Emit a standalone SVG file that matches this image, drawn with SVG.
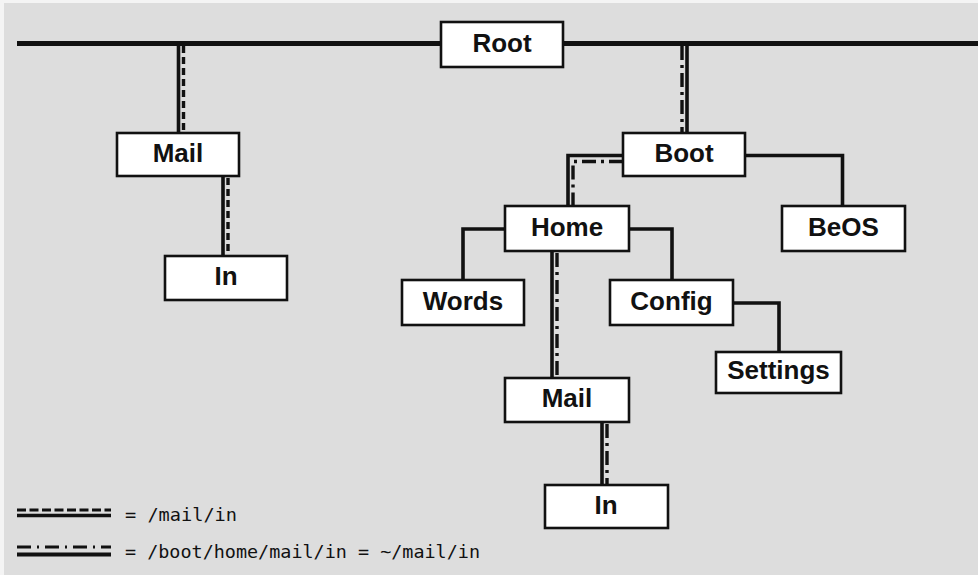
<svg xmlns="http://www.w3.org/2000/svg" width="978" height="575" viewBox="0 0 978 575">
  <style>
    .box { fill: #ffffff; stroke: #111111; stroke-width: 2.6; }
    .lbl { font-family: "Liberation Sans", Arial, sans-serif; font-weight: bold; font-size: 26px; fill: #111111; text-anchor: middle; }
    .solid { fill: none; stroke: #111111; stroke-width: 3.6; }
    .dash { fill: none; stroke: #111111; stroke-width: 3.4; stroke-dasharray: 7 4; }
    .dashdot { fill: none; stroke: #111111; stroke-width: 3.4; stroke-dasharray: 14 5 3 5; }
    .legend { font-family: "DejaVu Sans Mono", "Liberation Mono", monospace; font-size: 18.4px; fill: #111111; }
  </style>

  <!-- page background -->
  <rect x="0" y="0" width="978" height="575" fill="#f4f4f4"/>
  <rect x="4" y="3" width="974" height="572" fill="#dddddd"/>

  <!-- connectors -->
  <g id="connectors">
    <!-- root bus -->
    <line x1="17" y1="43.5" x2="978" y2="43.5" stroke="#111111" stroke-width="5"/>

    <!-- Root to /mail -->
    <line class="solid" x1="178.5" y1="44" x2="178.5" y2="133"/>
    <line class="dash" x1="183.5" y1="46" x2="183.5" y2="133"/>
    <!-- /mail to /mail/in -->
    <line class="solid" x1="223" y1="176" x2="223" y2="256"/>
    <line class="dash" x1="228" y1="178" x2="228" y2="256"/>

    <!-- Root to Boot -->
    <line class="solid" x1="687" y1="44" x2="687" y2="133"/>
    <line class="dashdot" x1="682" y1="46" x2="682" y2="133"/>

    <!-- Boot to Home -->
    <polyline class="solid" points="623,155.5 568,155.5 568,206"/>
    <polyline class="dashdot" points="623,161.5 573,161.5 573,206"/>

    <!-- Boot to BeOS -->
    <polyline class="solid" points="745,155.5 842.5,155.5 842.5,206"/>

    <!-- Home to Words / Config -->
    <polyline class="solid" points="505,229 463,229 463,280"/>
    <polyline class="solid" points="629,229 672,229 672,280"/>

    <!-- Config to Settings -->
    <polyline class="solid" points="733,303 779,303 779,352"/>

    <!-- Home to Mail -->
    <line class="solid" x1="552" y1="251" x2="552" y2="378"/>
    <line class="dashdot" x1="557" y1="253" x2="557" y2="378"/>

    <!-- Mail to In -->
    <line class="solid" x1="602" y1="422" x2="602" y2="485"/>
    <line class="dashdot" x1="607" y1="424" x2="607" y2="485"/>
  </g>

  <!-- nodes -->
  <g id="root">
    <rect class="box" x="441" y="22" width="122" height="45"/>
    <text class="lbl" x="502" y="52">Root</text>
  </g>
  <g id="mail">
    <rect class="box" x="117" y="133" width="122" height="43"/>
    <text class="lbl" x="178" y="162">Mail</text>
  </g>
  <g id="mail-in">
    <rect class="box" x="165" y="256" width="122" height="44"/>
    <text class="lbl" x="226" y="285">In</text>
  </g>
  <g id="boot">
    <rect class="box" x="623" y="133" width="122" height="43"/>
    <text class="lbl" x="684" y="162">Boot</text>
  </g>
  <g id="beos">
    <rect class="box" x="782" y="206" width="123" height="45"/>
    <text class="lbl" x="843.5" y="236">BeOS</text>
  </g>
  <g id="home">
    <rect class="box" x="505" y="206" width="124" height="45"/>
    <text class="lbl" x="567" y="236">Home</text>
  </g>
  <g id="words">
    <rect class="box" x="402" y="280" width="122" height="45"/>
    <text class="lbl" x="463" y="310">Words</text>
  </g>
  <g id="config">
    <rect class="box" x="610" y="280" width="123" height="45"/>
    <text class="lbl" x="671.5" y="310">Config</text>
  </g>
  <g id="settings">
    <rect class="box" x="716" y="352" width="125" height="41"/>
    <text class="lbl" x="778.5" y="379">Settings</text>
  </g>
  <g id="home-mail">
    <rect class="box" x="505" y="378" width="124" height="44"/>
    <text class="lbl" x="567" y="407">Mail</text>
  </g>
  <g id="home-mail-in">
    <rect class="box" x="545" y="485" width="123" height="43"/>
    <text class="lbl" x="606" y="514">In</text>
  </g>

  <!-- legend -->
  <g id="legend">
    <line x1="17" y1="510" x2="111" y2="510" stroke="#111111" stroke-width="3.2" stroke-dasharray="9 3.5"/>
    <line x1="17" y1="515.5" x2="111" y2="515.5" stroke="#111111" stroke-width="3.6"/>
    <text class="legend" x="125" y="521" textLength="112" lengthAdjust="spacingAndGlyphs">= /mail/in</text>

    <line x1="17" y1="547" x2="111" y2="547" stroke="#111111" stroke-width="3.2" stroke-dasharray="14 6 2 6"/>
    <line x1="17" y1="554.5" x2="111" y2="554.5" stroke="#111111" stroke-width="4.2"/>
    <text class="legend" x="125" y="558" textLength="355" lengthAdjust="spacingAndGlyphs">= /boot/home/mail/in = ~/mail/in</text>
  </g>
</svg>
